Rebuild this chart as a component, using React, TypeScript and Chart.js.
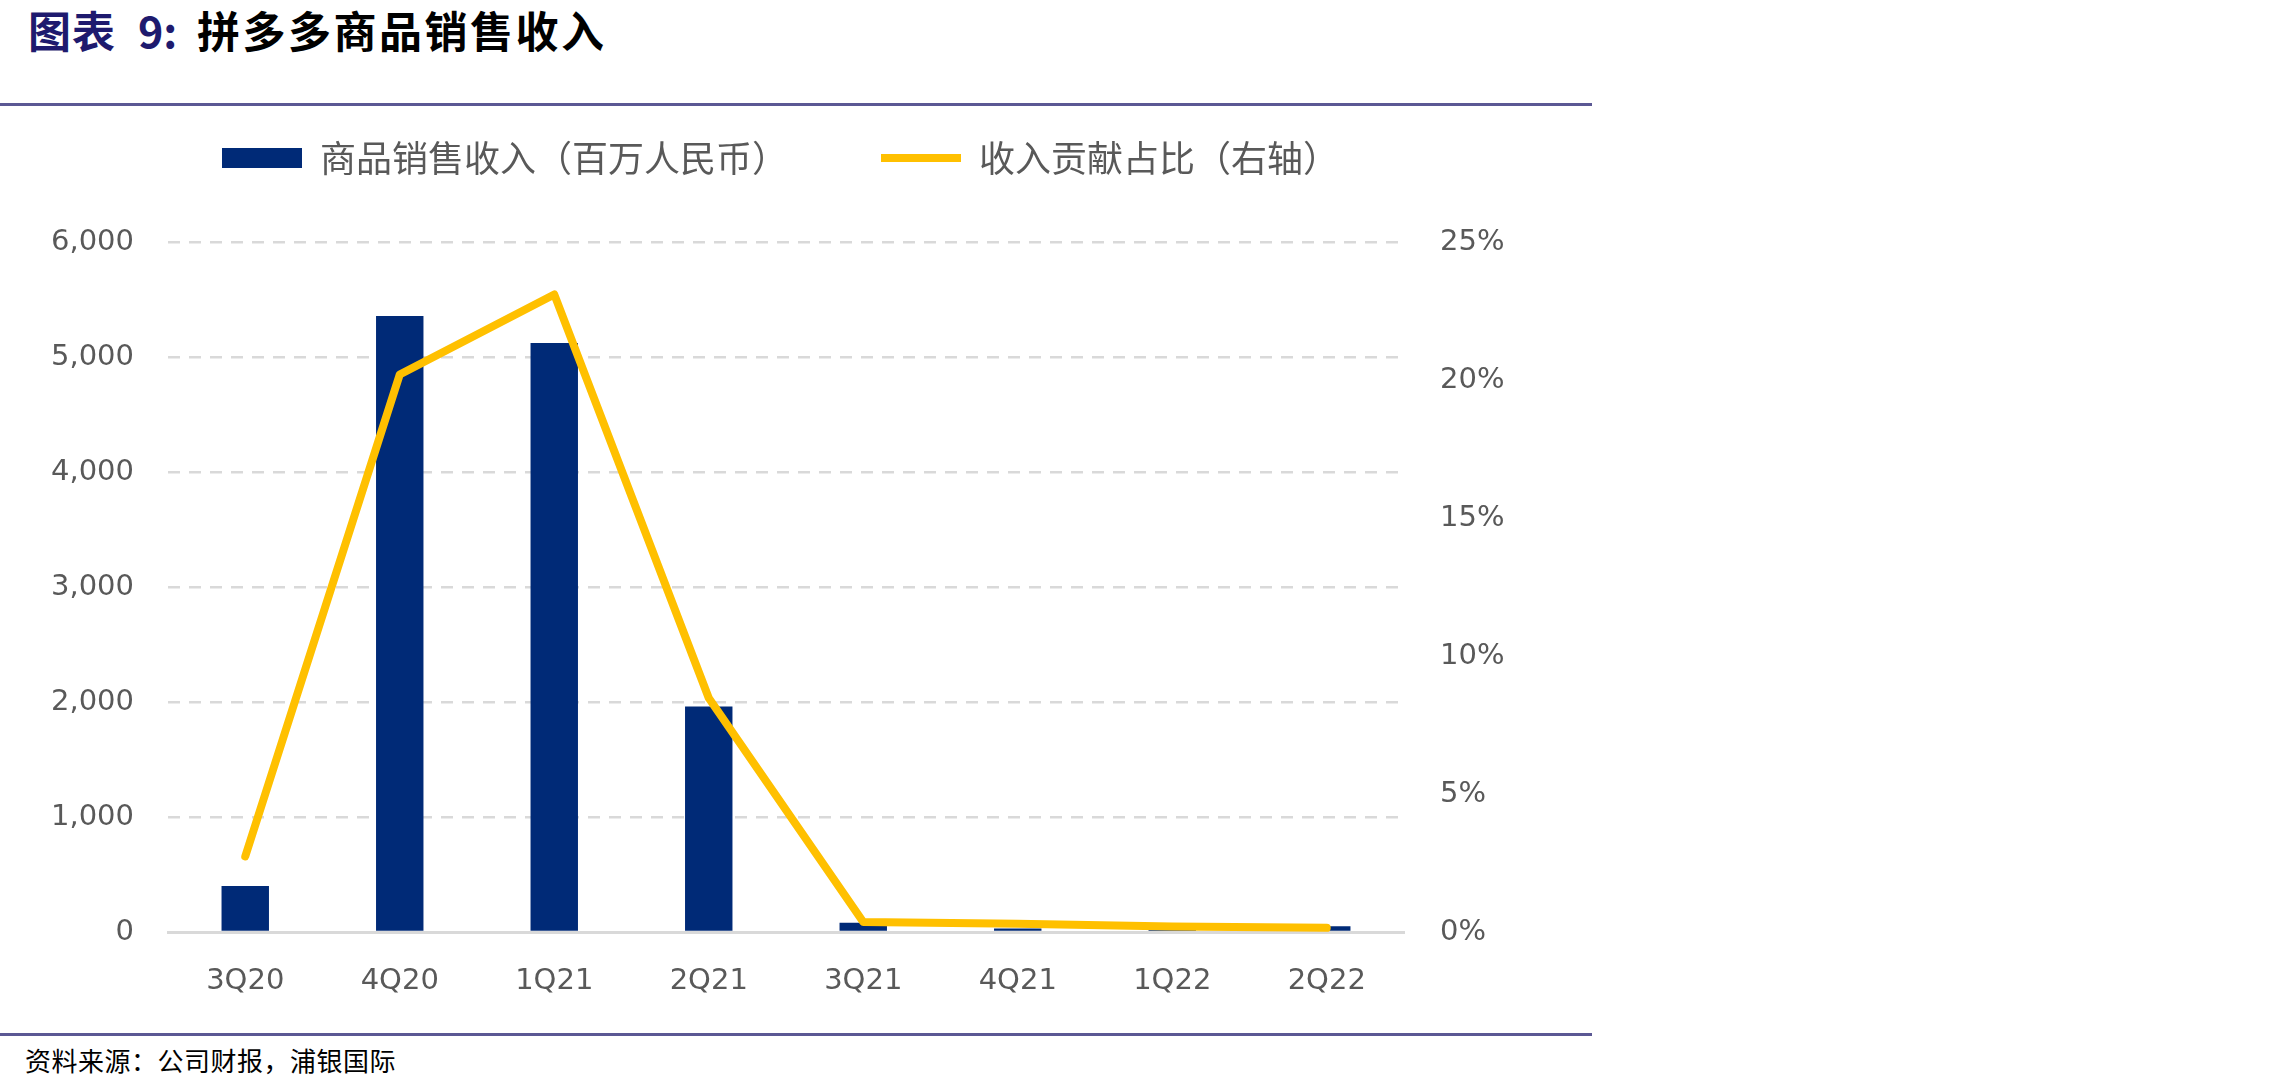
import React, { useEffect, useRef } from 'react';
import { Chart, registerables } from 'chart.js';

Chart.register(...registerables);

// ---- data ----
const categories = ['3Q20', '4Q20', '1Q21', '2Q21', '3Q21', '4Q21', '1Q22', '2Q22'];
const salesRevenue = [400, 5357, 5122, 1960, 80, 30, 20, 50]; // 百万人民币
const revenueShare = [0.0274, 0.202, 0.231, 0.0848, 0.0036, 0.003, 0.002, 0.0015]; // 右轴
const seriesNames = ['商品销售收入（百万人民币）', '收入贡献占比（右轴）'];
const leftAxis = { min: 0, max: 6000, step: 1000 };
const rightAxis = { min: 0, max: 0.25, step: 0.05 };
const titleLabel = '图表';
const titleNumber = '9:';
const titleText = '拼多多商品销售收入';
const sourceText = '资料来源：公司财报，浦银国际';

const NAVY = '#002A77';
const GOLD = '#FFC000';
const GRID = '#D9D9D9';
const TICK = '#595959';
const RULE = '#5B5894';
const CJK = '"Noto Sans CJK SC", sans-serif';
const TICK_FONT = { family: '"DejaVu Sans", sans-serif', size: 29 };

const CANVAS_TOP = 47;
const CANVAS_W = 1561;
const CANVAS_H = 973;
const LEGEND_H = 195;

const legendHeightPlugin = {
  id: 'legendHeight',
  beforeLayout(chart: any) {
    const leg = chart.legend;
    if (leg && !leg.__patched) {
      const fit = leg.fit.bind(leg);
      leg.fit = function () {
        fit();
        this.height = LEGEND_H;
      };
      leg.__patched = true;
    }
  },
};

export default function App() {
  const ref = useRef<HTMLCanvasElement | null>(null);

  useEffect(() => {
    if (!ref.current) return;
    const chart = new Chart(ref.current, {
      type: 'bar',
      data: {
        labels: categories,
        datasets: [
          {
            type: 'bar',
            label: seriesNames[0],
            data: salesRevenue,
            backgroundColor: NAVY,
            borderWidth: 0,
            yAxisID: 'y',
            order: 1,
            barPercentage: 0.307,
            categoryPercentage: 1,
            pointStyle: 'rect',
          } as any,
          {
            type: 'line',
            label: seriesNames[1],
            data: revenueShare,
            borderColor: GOLD,
            backgroundColor: GOLD,
            borderWidth: 8,
            borderCapStyle: 'round',
            borderJoinStyle: 'round',
            pointRadius: 0,
            pointHoverRadius: 0,
            tension: 0,
            yAxisID: 'y1',
            order: 0,
            pointStyle: 'line',
          } as any,
        ],
      },
      options: {
        animation: false,
        responsive: true,
        maintainAspectRatio: false,
        layout: { padding: 0 },
        plugins: {
          tooltip: { enabled: false },
          title: { display: false },
          legend: {
            display: true,
            position: 'top',
            labels: {
              usePointStyle: true,
              pointStyleWidth: 80,
              boxWidth: 80,
              boxHeight: 20,
              padding: 93,
              color: TICK,
              font: { family: CJK, size: 36 },
              sort: (a: any, b: any) => a.datasetIndex - b.datasetIndex,
            },
          },
        },
        scales: {
          x: {
            type: 'category',
            grid: { display: false },
            border: { display: true, color: GRID, width: 3 },
            ticks: { color: TICK, font: TICK_FONT, padding: 24, maxRotation: 0 },
            afterFit: (s: any) => {
              s.height = 88;
            },
          },
          y: {
            type: 'linear',
            position: 'left',
            min: leftAxis.min,
            max: leftAxis.max,
            grid: {
              color: GRID,
              lineWidth: 2.5,
              drawTicks: false,
            },
            border: {
              display: false,
              dash: (ctx: any) => (ctx.tick && ctx.tick.value === 0 ? [] : [12, 9]),
            },
            ticks: {
              stepSize: leftAxis.step,
              color: TICK,
              font: TICK_FONT,
              padding: 34,
              callback: (v: any) => Number(v).toLocaleString('en-US'),
            },
            afterFit: (s: any) => {
              s.width = 168;
            },
          },
          y1: {
            type: 'linear',
            position: 'right',
            min: rightAxis.min,
            max: rightAxis.max,
            grid: { display: false, drawTicks: false },
            border: { display: false },
            ticks: {
              stepSize: rightAxis.step,
              color: TICK,
              font: TICK_FONT,
              padding: 36,
              callback: (v: any) => Math.round(Number(v) * 100) + '%',
            },
            afterFit: (s: any) => {
              s.width = CANVAS_W - 1404;
            },
          },
        },
      } as any,
      plugins: [legendHeightPlugin as any],
    });
    return () => chart.destroy();
  }, []);

  return (
    <div
      style={{
        position: 'fixed',
        left: 0,
        top: 0,
        width: 2280,
        height: 1091,
        background: '#ffffff',
        overflow: 'hidden',
      }}
    >
      <div
        style={{
          position: 'absolute',
          left: 28,
          top: 8,
          fontFamily: CJK,
          fontWeight: 700,
          fontSize: 43,
          lineHeight: '43px',
          color: '#1E1A6E',
          whiteSpace: 'nowrap',
          letterSpacing: 1,
        }}
      >
        {titleLabel}
      </div>
      <div
        style={{
          position: 'absolute',
          left: 138,
          top: 8,
          fontFamily: CJK,
          fontWeight: 700,
          fontSize: 43,
          lineHeight: '43px',
          color: '#1E1A6E',
          whiteSpace: 'nowrap',
        }}
      >
        {titleNumber}
      </div>
      <div
        style={{
          position: 'absolute',
          left: 197,
          top: 8,
          fontFamily: CJK,
          fontWeight: 700,
          fontSize: 43,
          lineHeight: '43px',
          color: '#000000',
          whiteSpace: 'nowrap',
          letterSpacing: 2.5,
        }}
      >
        {titleText}
      </div>
      <div style={{ position: 'absolute', left: 0, top: 103, width: 1592, height: 3, background: RULE }} />
      <div
        style={{
          position: 'absolute',
          left: 0,
          top: CANVAS_TOP,
          width: CANVAS_W,
          height: CANVAS_H,
        }}
      >
        <canvas ref={ref} />
      </div>
      <div style={{ position: 'absolute', left: 0, top: 1033, width: 1592, height: 3, background: RULE }} />
      <div
        style={{
          position: 'absolute',
          left: 25,
          top: 1047,
          fontFamily: CJK,
          fontSize: 26,
          lineHeight: '26px',
          color: '#000000',
          whiteSpace: 'nowrap',
          letterSpacing: 0.5,
        }}
      >
        {sourceText}
      </div>
    </div>
  );
}
